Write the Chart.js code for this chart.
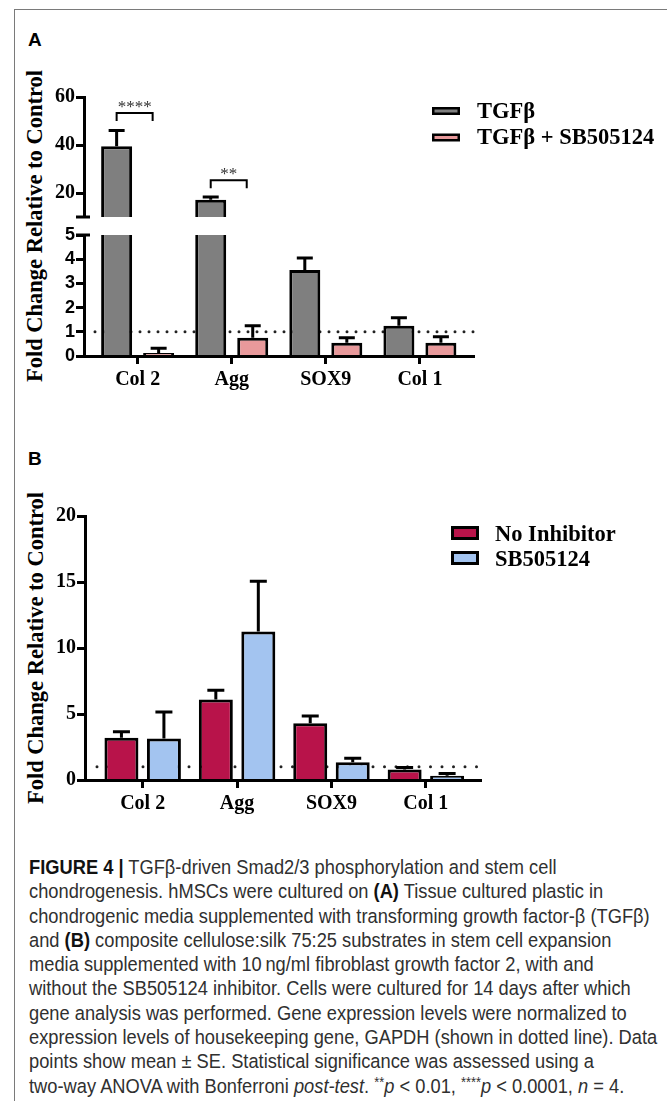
<!DOCTYPE html>
<html>
<head>
<meta charset="utf-8">
<title>Figure 4 – TGFβ-driven chondrogenesis</title>
<script src="https://cdn.jsdelivr.net/npm/chart.js@4.4.1/dist/chart.umd.min.js"></script>
<style>
  html, body { margin: 0; padding: 0; background: #fff; }
  #page { position: relative; width: 667px; height: 1101px; overflow: hidden; background: #fff; }
  #frame { position: absolute; left: 14px; top: 9px; width: 700px; height: 1200px;
           border-left: 1px solid #7a7a7a; border-top: 1px solid #7a7a7a; }
  canvas { position: absolute; left: 0; }
  .panel-tag { position: absolute; left: 28px; font: bold 19px "Liberation Sans", Arial, sans-serif;
               line-height: 19px; color: #000; }
  .y-title { position: absolute; white-space: nowrap; color: #000; line-height: 1;
             font: bold 22.5px "Liberation Serif", "Times New Roman", serif;
             transform: translate(-50%, -50%) rotate(-90deg); }
  #caption { position: absolute; left: 29px; top: 855px; color: #303030;
             font: 20.5px "Liberation Sans", Arial, sans-serif; line-height: 24.3px;
             transform: scaleX(0.892); transform-origin: 0 0; }
  #caption div { white-space: nowrap; }
  #caption b { font-weight: bold; color: #111; }
  #caption sup { font-size: 70%; line-height: 0; vertical-align: 0.45em; }
</style>
</head>
<body>
<div id="page">
  <div id="frame"></div>

  <div class="panel-tag" style="top:30px">A</div>
  <div class="y-title" style="left:35px; top:226px">Fold Change Relative to Control</div>
  <canvas id="chartAUpper" width="667" height="250" style="top:0px"></canvas>
  <canvas id="chartALower" width="667" height="200" style="top:210px"></canvas>

  <div class="panel-tag" style="top:449px">B</div>
  <div class="y-title" style="left:36px; top:648px">Fold Change Relative to Control</div>
  <canvas id="chartB" width="667" height="400" style="top:440px"></canvas>

  <div id="caption">
    <div><b>FIGURE 4 |</b> TGFβ-driven Smad2/3 phosphorylation and stem cell</div>
    <div>chondrogenesis. hMSCs were cultured on <b>(A)</b> Tissue cultured plastic in</div>
    <div>chondrogenic media supplemented with transforming growth factor-β (TGFβ)</div>
    <div>and <b>(B)</b> composite cellulose:silk 75:25 substrates in stem cell expansion</div>
    <div>media supplemented with 10&#8201;ng/ml fibroblast growth factor 2, with and</div>
    <div>without the SB505124 inhibitor. Cells were cultured for 14 days after which</div>
    <div>gene analysis was performed. Gene expression levels were normalized to</div>
    <div>expression levels of housekeeping gene, GAPDH (shown in dotted line). Data</div>
    <div>points show mean ± SE. Statistical significance was assessed using a</div>
    <div>two-way ANOVA with Bonferroni <i>post-test</i>. <sup>**</sup><i>p</i> &lt; 0.01, <sup>****</sup><i>p</i> &lt; 0.0001, <i>n</i> = 4.</div>
  </div>
</div>

<script>
// ---------------- data ----------------
const categories = ['Col 2', 'Agg', 'SOX9', 'Col 1'];

// Panel A: tissue culture plastic, chondrogenic media
const seriesA = ['TGFβ', 'TGFβ + SB505124'];
const tgfMean = [39.5, 17.2, 3.55, 1.25];
const tgfSE = [6.5, 1.1, 0.5, 0.33];
const tgfSbMean = [0.12, 0.75, 0.55, 0.55];
const tgfSbSE = [0.2, 0.5, 0.2, 0.25];
const yTicksALower = [0, 1, 2, 3, 4, 5];
const yTicksAUpper = [20, 40, 60];
const axisBreak = [5, 10];            // lower segment ends at 5, upper segment starts at 10
const sigLabels = ['****', '**', null, null];
const sigHeights = [50, 22, null, null];

// Panel B: cellulose:silk 75:25, expansion media + FGF2
const seriesB = ['No Inhibitor', 'SB505124'];
const noInhMean = [3.2, 6.1, 4.3, 0.8];
const noInhSE = [0.45, 0.7, 0.55, 0.15];
const sbMean = [3.15, 11.25, 1.35, 0.32];
const sbSE = [2.0, 3.8, 0.3, 0.18];
const yTicksB = [0, 5, 10, 15, 20];

const gapdhLevel = 1;                 // housekeeping reference (dotted line)

// ---------------- styling ----------------
const SERIF = '"Liberation Serif", "Times New Roman", serif';
const SANS = '"Liberation Sans", Arial, sans-serif';
const palette = { tgf: '#7f7f7f', tgfSb: '#e8999b', noInh: '#b8134a', sb: '#a3c4f0' };

function barSet(label, means, ses, color) {
  return {
    label,
    errors: ses,
    data: means.map((v, i) => ({ x: i, y: v })),
    backgroundColor: color,
    borderColor: '#000',
    borderWidth: 3,
    borderSkipped: 'start',
    clip: 0
  };
}

function xAxis(min, max, showLabels) {
  return {
    type: 'linear', bounds: 'data', min, max, offset: false, display: showLabels,
    afterBuildTicks: s => { s.ticks = categories.map((_, i) => ({ value: i })); },
    afterFit: s => { s.height = showLabels ? 44 : 0; },
    border: { display: true, color: '#000', width: 3, z: 1 },
    grid: { offset: false, drawOnChartArea: false, drawTicks: true, tickLength: 8, tickWidth: 3, tickColor: '#000' },
    ticks: { color: '#000', padding: 4, autoSkip: false, maxRotation: 0,
             font: { family: SERIF, size: 20, weight: 'bold' },
             callback: v => categories[v] }
  };
}

function yAxis(min, max, tickValues, font, width) {
  return {
    type: 'linear', bounds: 'data', min, max,
    afterBuildTicks: s => { s.ticks = tickValues.map(v => ({ value: v })); },
    afterFit: s => { s.width = width; },
    border: { display: true, color: '#000', width: 3, z: 1 },
    grid: { drawOnChartArea: false, drawTicks: true, tickLength: 8, tickWidth: 3, tickColor: '#000' },
    ticks: { color: '#000', padding: 1, autoSkip: false, font, callback: v => String(v) }
  };
}

// ---------------- plugins ----------------
const errorBars = {
  id: 'errorBars',
  afterDatasetsDraw(chart, args, o) {
    const { ctx, chartArea: a, scales: { y } } = chart;
    ctx.save();
    ctx.beginPath();
    ctx.rect(a.left, a.top, a.right - a.left, a.bottom - a.top);
    ctx.clip();
    ctx.strokeStyle = '#000';
    ctx.lineWidth = o.width;
    chart.data.datasets.forEach((ds, di) => {
      chart.getDatasetMeta(di).data.forEach((bar, i) => {
        const mean = ds.data[i].y;
        const yMean = y.getPixelForValue(mean);
        const yTop = y.getPixelForValue(mean + ds.errors[i]);
        ctx.beginPath();
        ctx.moveTo(bar.x, yMean);
        ctx.lineTo(bar.x, yTop);
        ctx.moveTo(bar.x - o.cap / 2, yTop);
        ctx.lineTo(bar.x + o.cap / 2, yTop);
        ctx.stroke();
      });
    });
    ctx.restore();
  }
};

const refLine = {
  id: 'refLine',
  beforeDatasetsDraw(chart, args, o) {
    const { ctx, chartArea: a, scales: { y } } = chart;
    const py = y.getPixelForValue(o.value);
    ctx.save();
    ctx.strokeStyle = o.color;
    ctx.lineWidth = o.dot;
    ctx.lineCap = 'round';
    ctx.setLineDash([0, o.gap]);
    ctx.beginPath();
    ctx.moveTo(a.left + o.inset, py);
    ctx.lineTo(a.right, py);
    ctx.stroke();
    ctx.restore();
  }
};

const breakMark = {
  id: 'breakMark',
  afterDraw(chart, args, o) {
    const { ctx, chartArea: a } = chart;
    const py = o.edge === 'bottom' ? a.bottom : a.top;
    ctx.save();
    ctx.strokeStyle = '#000';
    ctx.lineWidth = 3;
    ctx.beginPath();
    ctx.moveTo(a.left - o.out, py);
    ctx.lineTo(a.left + o.in, py);
    ctx.stroke();
    ctx.restore();
  }
};

const boxLegend = {
  id: 'boxLegend',
  afterDraw(chart, args, o) {
    const { ctx } = chart;
    ctx.save();
    chart.data.datasets.forEach((ds, i) => {
      const by = o.y + i * o.step;
      ctx.fillStyle = '#000';
      ctx.fillRect(o.x, by, o.w, o.h);
      ctx.fillStyle = ds.backgroundColor;
      ctx.fillRect(o.x + o.border, by + o.border, o.w - 2 * o.border, o.h - 2 * o.border);
      ctx.fillStyle = '#000';
      ctx.font = o.font;
      ctx.textAlign = 'left';
      ctx.textBaseline = 'alphabetic';
      ctx.fillText(ds.label, o.textX, by + o.baseline);
    });
    ctx.restore();
  }
};

const sigBrackets = {
  id: 'sigBrackets',
  afterDatasetsDraw(chart, args, o) {
    const { ctx, scales: { y } } = chart;
    const first = chart.getDatasetMeta(0).data;
    const second = chart.getDatasetMeta(1).data;
    ctx.save();
    ctx.strokeStyle = '#000';
    ctx.lineWidth = o.lineWidth;
    ctx.fillStyle = o.textColor;
    ctx.font = o.font;
    ctx.textAlign = 'center';
    ctx.textBaseline = 'alphabetic';
    sigLabels.forEach((label, i) => {
      if (!label) return;
      const x1 = first[i].x;
      const x2 = second[i].x - o.inset;
      const yLeg = y.getPixelForValue(sigHeights[i]);
      const yBar = yLeg - o.leg;
      ctx.beginPath();
      ctx.moveTo(x1, yLeg);
      ctx.lineTo(x1, yBar);
      ctx.lineTo(x2, yBar);
      ctx.lineTo(x2, yLeg);
      ctx.stroke();
      ctx.fillText(label, (x1 + x2) / 2, yBar - o.gap);
    });
    ctx.restore();
  }
};

function baseOptions(padding, scales, barLayout, pluginOpts) {
  return {
    responsive: false,
    animation: false,
    devicePixelRatio: 1,
    events: [],
    layout: { padding },
    scales,
    datasets: { bar: barLayout },
    plugins: Object.assign({
      legend: { display: false },
      tooltip: { enabled: false },
      title: { display: false }
    }, pluginOpts)
  };
}

// ---------------- panel A ----------------
const barLayoutA = { categoryPercentage: 0.893, barPercentage: 0.738 };
const xRangeA = [-0.57, 3.575];

function panelADatasets() {
  return [
    barSet(seriesA[0], tgfMean, tgfSE, palette.tgf),
    barSet(seriesA[1], tgfSbMean, tgfSbSE, palette.tgfSb)
  ];
}

new Chart(document.getElementById('chartAUpper'), {
  type: 'bar',
  data: { datasets: panelADatasets() },
  options: baseOptions(
    { left: 0, top: 97, right: 193, bottom: 33 },
    {
      x: xAxis(xRangeA[0], xRangeA[1], false),
      y: yAxis(axisBreak[1], yTicksAUpper[yTicksAUpper.length - 1], yTicksAUpper,
               { family: SERIF, size: 20, weight: 'bold' }, 84)
    },
    barLayoutA,
    {
      errorBars: { width: 3, cap: 16 },
      breakMark: { edge: 'bottom', out: 8, in: 6 },
      sigBrackets: { lineWidth: 2, leg: 8, inset: 6, gap: 1, textColor: '#333',
                     font: '17px ' + SERIF },
      boxLegend: { x: 432, y: 107, w: 28, h: 8, border: 2.5, step: 26.5, textX: 477, baseline: 10.5,
                   font: 'bold 22.5px ' + SERIF }
    }
  ),
  plugins: [errorBars, breakMark, sigBrackets, boxLegend]
});

new Chart(document.getElementById('chartALower'), {
  type: 'bar',
  data: { datasets: panelADatasets() },
  options: baseOptions(
    { left: 0, top: 25, right: 193, bottom: 10 },
    {
      x: xAxis(xRangeA[0], xRangeA[1], true),
      y: yAxis(0, axisBreak[0], yTicksALower, { family: SANS, size: 18, weight: 'bold' }, 84)
    },
    barLayoutA,
    {
      errorBars: { width: 3, cap: 16 },
      refLine: { value: gapdhLevel, color: '#222', dot: 3, gap: 9, inset: 11 },
      breakMark: { edge: 'top', out: 8, in: 6 }
    }
  ),
  plugins: [refLine, errorBars, breakMark]
});

// ---------------- panel B ----------------
new Chart(document.getElementById('chartB'), {
  type: 'bar',
  data: {
    datasets: [
      barSet(seriesB[0], noInhMean, noInhSE, palette.noInh),
      barSet(seriesB[1], sbMean, sbSE, palette.sb)
    ]
  },
  options: baseOptions(
    { left: 0, top: 76, right: 186, bottom: 16 },
    {
      x: xAxis(-0.611, 3.584, true),
      y: yAxis(0, yTicksB[yTicksB.length - 1], yTicksB, { family: SERIF, size: 20, weight: 'bold' }, 85)
    },
    { categoryPercentage: 0.9, barPercentage: 0.8 },
    {
      errorBars: { width: 3, cap: 17 },
      refLine: { value: gapdhLevel, color: '#222', dot: 3, gap: 11.5, inset: 12 },
      boxLegend: { x: 451, y: 86, w: 28, h: 14, border: 3, step: 25, textX: 495, baseline: 14.5,
                   font: 'bold 22.5px ' + SERIF }
    }
  ),
  plugins: [refLine, errorBars, boxLegend]
});
</script>
</body>
</html>
